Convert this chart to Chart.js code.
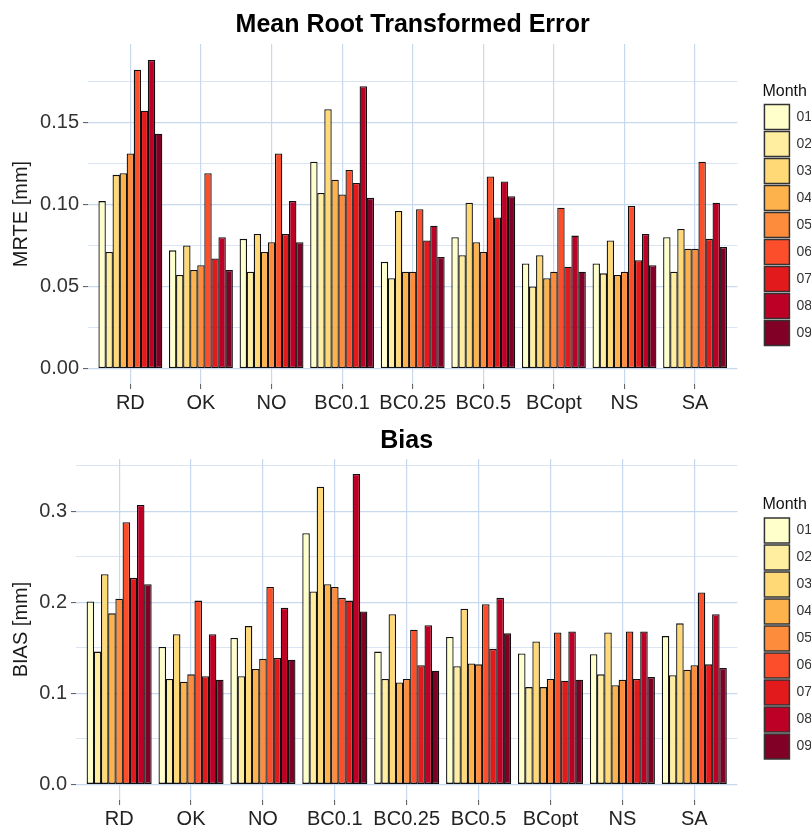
<!DOCTYPE html>
<html>
<head>
<meta charset="utf-8">
<script src="https://cdn.jsdelivr.net/npm/chart.js@4/dist/chart.umd.min.js"></script>
<style>
  html, body { margin: 0; padding: 0; background: #fff; overflow: hidden; }
  #wrap { width: 811px; height: 827px; overflow: hidden; }
  canvas { display: block; }
</style>
</head>
<body>
<div id="wrap">
  <canvas id="mrteChart" width="822" height="416"></canvas>
  <canvas id="biasChart" width="822" height="411"></canvas>
</div>
<script>
const methods = ["RD", "OK", "NO", "BC0.1", "BC0.25", "BC0.5", "BCopt", "NS", "SA"];
const months = ["01", "02", "03", "04", "05", "06", "07", "08", "09"];
const monthColors = ["#ffffcc", "#ffeda0", "#fed976", "#feb24c", "#fd8d3c", "#fc4e2a", "#e31a1c", "#bd0026", "#800026"];

// rows = method, columns = month 01..09
const mrteValues = [
  [0.102, 0.071, 0.118, 0.119, 0.131, 0.182, 0.157, 0.188, 0.143], // RD
  [0.072, 0.057, 0.075, 0.060, 0.063, 0.119, 0.067, 0.080, 0.060], // OK
  [0.079, 0.059, 0.082, 0.071, 0.077, 0.131, 0.082, 0.102, 0.077], // NO
  [0.126, 0.107, 0.158, 0.115, 0.106, 0.121, 0.113, 0.172, 0.104], // BC0.1
  [0.065, 0.055, 0.096, 0.059, 0.059, 0.097, 0.078, 0.087, 0.068], // BC0.25
  [0.080, 0.069, 0.101, 0.077, 0.071, 0.117, 0.092, 0.114, 0.105], // BC0.5
  [0.064, 0.050, 0.069, 0.055, 0.059, 0.098, 0.062, 0.081, 0.059], // BCopt
  [0.064, 0.058, 0.078, 0.057, 0.059, 0.099, 0.066, 0.082, 0.063], // NS
  [0.080, 0.059, 0.085, 0.073, 0.073, 0.126, 0.079, 0.101, 0.074], // SA
];

const biasValues = [
  [0.201, 0.146, 0.231, 0.188, 0.204, 0.288, 0.227, 0.307, 0.220], // RD
  [0.151, 0.116, 0.165, 0.113, 0.121, 0.202, 0.119, 0.165, 0.115], // OK
  [0.161, 0.119, 0.174, 0.127, 0.138, 0.217, 0.139, 0.194, 0.137], // NO
  [0.276, 0.212, 0.327, 0.220, 0.217, 0.205, 0.202, 0.341, 0.190], // BC0.1
  [0.146, 0.116, 0.187, 0.112, 0.116, 0.170, 0.131, 0.175, 0.125], // BC0.25
  [0.162, 0.130, 0.193, 0.133, 0.132, 0.198, 0.149, 0.205, 0.166], // BC0.5
  [0.144, 0.107, 0.157, 0.107, 0.116, 0.167, 0.114, 0.168, 0.115], // BCopt
  [0.143, 0.121, 0.167, 0.109, 0.115, 0.168, 0.116, 0.168, 0.118], // NS
  [0.163, 0.120, 0.177, 0.126, 0.131, 0.211, 0.132, 0.187, 0.128], // SA
];

const mrteTicks = [0, 0.025, 0.05, 0.075, 0.1, 0.125, 0.15, 0.175];
const biasTicks = [0, 0.05, 0.1, 0.15, 0.2, 0.25, 0.3, 0.35];

const FONT = "'Liberation Sans', Arial, sans-serif";
const GRID = "#c8d9ef";

function isMajor(v, step) {
  return Math.abs(v / step - Math.round(v / step)) < 1e-6;
}

function makeChart(id, opt) {
  const datasets = months.map((m, mi) => ({
    label: m,
    data: methods.map((_, i) => ({ x: i, y: opt.values[i][mi] })),
    backgroundColor: monthColors[mi],
    borderColor: "#111",
    borderWidth: 1.3,
    borderSkipped: false,
    barPercentage: 1.05, // slight overlap so neighbouring bars share one outline
    categoryPercentage: 0.9,
  }));

  new Chart(document.getElementById(id), {
    type: "bar",
    data: { datasets },
    options: {
      responsive: false,
      animation: false,
      layout: { padding: 0 },
      plugins: {
        tooltip: { enabled: false },
        title: {
          display: true,
          text: opt.title,
          fullSize: false,
          color: "#000",
          font: { family: FONT, size: 25, weight: "bold" },
          padding: { top: 10, bottom: opt.titleBottom },
        },
        legend: {
          position: "right",
          title: {
            display: true,
            text: "Month",
            position: "start",
            color: "#111",
            font: { family: FONT, size: 16 },
            padding: { top: 15, bottom: 0 },
          },
          labels: {
            boxWidth: 25,
            boxHeight: 25,
            padding: 2,
            color: "#333",
            font: { family: FONT, size: 14 },
            generateLabels: (chart) =>
              Chart.defaults.plugins.legend.labels
                .generateLabels(chart)
                .map((l) => ({ ...l, lineWidth: 1.5, strokeStyle: "#333" })),
          },
        },
      },
      scales: {
        x: {
          type: "linear",
          min: -0.6,
          max: 8.6,
          offset: false,
          afterBuildTicks: (s) => {
            s.ticks = methods.map((_, i) => ({ value: i }));
          },
          afterFit: (s) => {
            s.height = opt.xHeight;
          },
          ticks: {
            autoSkip: false,
            maxRotation: 0,
            padding: 2,
            color: "#222",
            font: { family: FONT, size: 20 },
            callback: (v) => methods[v],
          },
          grid: { offset: false, color: GRID, lineWidth: 1.2, tickColor: "#555", tickLength: 5, tickWidth: 1 },
          border: { display: false },
        },
        y: {
          type: "linear",
          min: opt.min,
          max: opt.max,
          afterBuildTicks: (s) => {
            s.ticks = opt.ticks.map((v) => ({ value: v }));
          },
          afterFit: (s) => {
            s.width = opt.yWidth;
          },
          title: {
            display: true,
            text: opt.yTitle,
            color: "#1a1a1a",
            font: { family: FONT, size: 20 },
            padding: { top: 9, bottom: 0 },
          },
          ticks: {
            padding: 4,
            color: "#333",
            font: { family: FONT, size: 20 },
            callback: (v) => (isMajor(v, opt.major) ? v.toFixed(opt.digits) : ""),
          },
          grid: {
            color: GRID,
            lineWidth: (c) => (c.tick && isMajor(c.tick.value, opt.major) ? 1.2 : 0.7),
            tickColor: (c) => (c.tick && isMajor(c.tick.value, opt.major) ? "#555" : "rgba(0,0,0,0)"),
            tickLength: 5,
            tickWidth: 1,
          },
          border: { display: false },
        },
        // empty spacer between the panel and the legend
        gap: {
          type: "linear",
          position: "right",
          display: true,
          grid: { display: false },
          ticks: { display: false },
          border: { display: false },
          afterFit: (s) => {
            s.width = 25;
          },
        },
      },
    },
  });
}

makeChart("mrteChart", {
  title: "Mean Root Transformed Error",
  yTitle: "MRTE [mm]",
  values: mrteValues,
  ticks: mrteTicks,
  min: -0.0094,
  max: 0.1977,
  major: 0.05,
  digits: 2,
  yWidth: 88,
  xHeight: 32,
  titleBottom: 4,
});

makeChart("biasChart", {
  title: "Bias",
  yTitle: "BIAS [mm]",
  values: biasValues,
  ticks: biasTicks,
  min: -0.017,
  max: 0.3575,
  major: 0.1,
  digits: 1,
  yWidth: 76,
  xHeight: 27,
  titleBottom: 3,
});
</script>
</body>
</html>
